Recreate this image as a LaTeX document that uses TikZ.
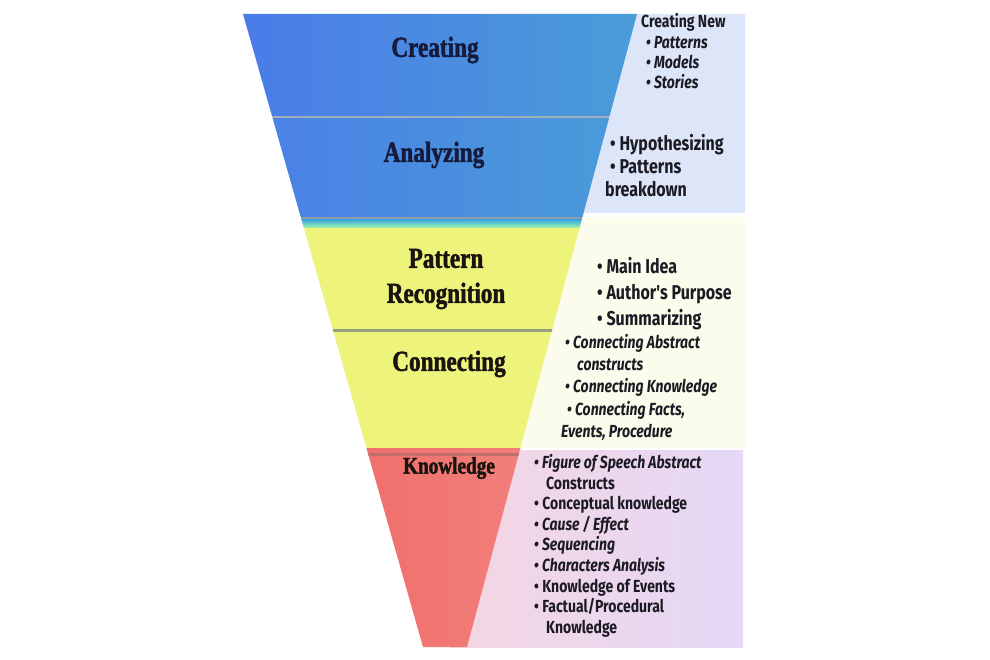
\documentclass[tikz,border=0pt]{standalone}
\usepackage{fontspec}
\newfontfamily\titlefont[FakeStretch=0.8, BoldFeatures={FakeBold=1.6}]{Liberation Serif}
\newfontfamily\listfont[FakeStretch=0.8]{Fira Sans}
\definecolor{panelblue}{HTML}{DCE6F8}
\definecolor{panelcream}{HTML}{FCFCEC}
\definecolor{panelpink}{HTML}{F5D6E2}
\definecolor{panellav}{HTML}{E4D8F6}
\definecolor{blueL}{HTML}{4A7BE8}
\definecolor{blueR}{HTML}{4A9DD8}
\definecolor{sepgray}{HTML}{A2AEBC}
\definecolor{bandyellow}{HTML}{EEF37C}
\definecolor{redL}{HTML}{EE6262}
\definecolor{redR}{HTML}{F48C84}
\definecolor{navy}{HTML}{161A3C}
\definecolor{ink}{HTML}{1A1410}
\definecolor{listink}{HTML}{1C1A22}
\tikzset{
  title/.style={font=\titlefont\bfseries\fontsize{29}{35}\selectfont, align=center, inner sep=0pt},
  biglist/.style={font=\listfont\bfseries\fontsize{20}{23}\selectfont, text=listink, anchor=base west, inner sep=0pt},
  smalllist/.style={font=\listfont\bfseries\fontsize{17.5}{20}\selectfont, text=listink, anchor=base west, inner sep=0pt},
  smallit/.style={smalllist, font=\listfont\bfseries\itshape\fontsize{17.5}{20}\selectfont},
}
\begin{document}
\begin{tikzpicture}[x=1pt,y=-1pt]
\useasboundingbox[fill=white] (0,0) rectangle (990,660);
% side panels
\fill[panelblue] (450,14) rectangle (745,213);
\fill[panelcream] (450,217) rectangle (745,448);
\shade[left color=panelpink, right color=panellav] (450,450) rectangle (743,647);
% funnel
\begin{scope}
\clip (243,14) -- (637,14) -- (467,647) -- (423,647) -- cycle;
\shade[left color=blueL, right color=blueR] (230,14) rectangle (650,116);
\fill[sepgray] (230,116) rectangle (650,119);
\shade[left color=blueL!90!blueR, right color=blueR] (230,119) rectangle (650,217);
\fill[sepgray!90!black] (230,217) rectangle (650,220);
\shade[top color=blueR!85!cyan, bottom color=bandyellow!70!cyan] (230,220) rectangle (650,228);
\fill[bandyellow] (230,228) rectangle (650,448);
\fill[sepgray!70!olive] (230,329) rectangle (650,332);
\shade[left color=redL, right color=redR] (230,448) rectangle (650,647);
\fill[redL!60!gray] (230,453) rectangle (650,456);
\end{scope}
% titles
\node[title, text=navy] (creating) at (435,50) {Creating};
\node[title, text=navy] (analyzing) at (434,155) {Analyzing};
\node[title, text=ink] (pattern) at (446,279) {Pattern\\Recognition};
\node[title, text=ink] (connecting) at (449,364) {Connecting};
\node[title, text=ink, font=\titlefont\bfseries\fontsize{24}{28}\selectfont] (knowledge) at (449,468) {Knowledge};
% creating list
\node[smalllist] (cn) at (641,28) {Creating New};
\node[smallit] (c1) at (646,49) {\textbullet\ Patterns};
\node[smallit] (c2) at (646,69) {\textbullet\ Models};
\node[smallit] (c3) at (646,89) {\textbullet\ Stories};
% analyzing list
\node[biglist] (a1) at (610,151) {\textbullet\ Hypothesizing};
\node[biglist] (a2) at (610,174) {\textbullet\ Patterns};
\node[biglist] (a3) at (605,197) {breakdown};
% pattern list
\node[biglist] (p1) at (597,273) {\textbullet\ Main Idea};
\node[biglist] (p2) at (597,299) {\textbullet\ Author's Purpose};
\node[biglist] (p3) at (597,325) {\textbullet\ Summarizing};
% connecting list
\node[smallit] (k1) at (565,348) {\textbullet\ Connecting Abstract};
\node[smallit] (k2) at (577,370) {constructs};
\node[smallit] (k3) at (565,392) {\textbullet\ Connecting Knowledge};
\node[smallit] (k4) at (567,415) {\textbullet\ Connecting Facts,};
\node[smallit] (k5) at (561,437) {Events, Procedure};
% knowledge list
\node[smallit] (n1) at (534,468) {\textbullet\ Figure of Speech Abstract};
\node[smalllist] (n2) at (546,489) {Constructs};
\node[smalllist] (n3) at (534,509) {\textbullet\ Conceptual knowledge};
\node[smallit] (n4) at (534,530) {\textbullet\ Cause / Effect};
\node[smallit] (n5) at (534,550) {\textbullet\ Sequencing};
\node[smallit] (n6) at (534,571) {\textbullet\ Characters Analysis};
\node[smalllist] (n7) at (534,592) {\textbullet\ Knowledge of Events};
\node[smalllist] (n8) at (534,612) {\textbullet\ Factual/Procedural};
\node[smalllist] (n9) at (546,633) {Knowledge};
\end{tikzpicture}
\end{document}
